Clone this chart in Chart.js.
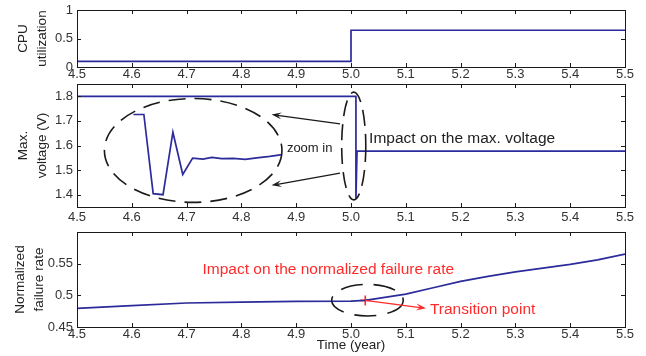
<!DOCTYPE html>
<html>
<head>
<meta charset="utf-8">
<script src="https://cdn.jsdelivr.net/npm/chart.js@4.4.1/dist/chart.umd.min.js"></script>
<style>
  body { margin: 0; background: #fff; }
  #wrap { position: relative; width: 646px; height: 356px; overflow: hidden; }
  canvas { position: absolute; left: 0; }
</style>
</head>
<body>
<div id="wrap">
  <canvas id="cpuChart" width="646" height="82" style="top:0"></canvas>
  <canvas id="voltChart" width="646" height="150" style="top:74px"></canvas>
  <canvas id="rateChart" width="646" height="134" style="top:222px"></canvas>
</div>
<script>
// x axis (years)
const timeTicks = [4.5, 4.6, 4.7, 4.8, 4.9, 5.0, 5.1, 5.2, 5.3, 5.4, 5.5];

// CPU utilization
const cpuTime = [4.5, 5.0, 5.0, 5.5];
const cpuUtil = [0.1, 0.1, 0.645, 0.645];
const cpuTicks = [0, 0.5, 1];

// max. voltage
const voltTime = [4.5, 5.009, 5.009, 5.011, 5.5];
const maxVolt = [1.8, 1.8, 1.385, 1.577, 1.577];
const voltTicks = [1.4, 1.5, 1.6, 1.7, 1.8];

// zoomed-in transient drawn inside the ellipse
const zoomTime = [4.603, 4.622, 4.639, 4.657, 4.675, 4.693, 4.711, 4.730, 4.746, 4.764, 4.785, 4.807, 4.828, 4.852, 4.874];
const zoomVolt = [1.726, 1.726, 1.404, 1.400, 1.654, 1.482, 1.549, 1.545, 1.552, 1.547, 1.548, 1.544, 1.550, 1.556, 1.563];

// normalized failure rate
const rateTime = [4.5, 4.6, 4.7, 4.8, 4.9, 5.0, 5.026, 5.1, 5.15, 5.2, 5.25, 5.3, 5.35, 5.4, 5.45, 5.5];
const failRate = [0.4795, 0.4836, 0.4879, 0.4894, 0.4905, 0.491, 0.492, 0.502, 0.512, 0.522, 0.530, 0.537, 0.543, 0.549, 0.556, 0.565];
const rateTicks = [0.45, 0.5, 0.55];
const transitionTime = [5.026];
const transitionRate = [0.492];

Chart.defaults.font.family = '"Liberation Sans", Arial, Helvetica, sans-serif';

const BLUE = '#2b2b9b';
const RED = '#ff2b2b';
const INK = '#1a1a1a';

const toPoints = (xs, ys) => xs.map((x, i) => ({ x: x, y: ys[i] }));

// box around the plot with MATLAB-style inward ticks
const framePlugin = {
    id: 'frame',
    afterDraw(chart) {
        const { ctx, chartArea: a, scales: { x, y } } = chart;
        ctx.save();
        ctx.strokeStyle = INK;
        ctx.lineWidth = 1;
        ctx.strokeRect(Math.round(a.left) + 0.5, Math.round(a.top) + 0.5,
            Math.round(a.right - a.left), Math.round(a.bottom - a.top));
        ctx.beginPath();
        x.ticks.forEach(t => {
            const px = Math.round(x.getPixelForValue(t.value)) + 0.5;
            ctx.moveTo(px, a.bottom); ctx.lineTo(px, a.bottom - 4);
            ctx.moveTo(px, a.top); ctx.lineTo(px, a.top + 4);
        });
        y.ticks.forEach(t => {
            const py = Math.round(y.getPixelForValue(t.value)) + 0.5;
            ctx.moveTo(a.left, py); ctx.lineTo(a.left + 4, py);
            ctx.moveTo(a.right, py); ctx.lineTo(a.right - 4, py);
        });
        ctx.stroke();
        ctx.restore();
    }
};

function ellipse(chart, cx, cy, rx, ry, dash) {
    const { ctx, scales: { x, y } } = chart;
    const px = x.getPixelForValue(cx), py = y.getPixelForValue(cy);
    const prx = Math.abs(x.getPixelForValue(cx + rx) - px);
    const pry = Math.abs(y.getPixelForValue(cy + ry) - py);
    ctx.save();
    ctx.setLineDash(dash);
    ctx.lineWidth = 1.6;
    ctx.strokeStyle = INK;
    ctx.beginPath();
    ctx.ellipse(px, py, prx, pry, 0, 0, Math.PI * 2);
    ctx.stroke();
    ctx.restore();
}

function arrow(chart, x0, y0, x1, y1, color) {
    const { ctx, scales: { x, y } } = chart;
    const ax = x.getPixelForValue(x0), ay = y.getPixelForValue(y0);
    const bx = x.getPixelForValue(x1), by = y.getPixelForValue(y1);
    const ang = Math.atan2(by - ay, bx - ax);
    const len = 10, w = 3.5;
    ctx.save();
    ctx.strokeStyle = color;
    ctx.fillStyle = color;
    ctx.lineWidth = 1.3;
    ctx.beginPath();
    ctx.moveTo(ax, ay);
    ctx.lineTo(bx - Math.cos(ang) * len * 0.6, by - Math.sin(ang) * len * 0.6);
    ctx.stroke();
    ctx.beginPath();
    ctx.moveTo(bx, by);
    ctx.lineTo(bx - Math.cos(ang) * len + Math.sin(ang) * w, by - Math.sin(ang) * len - Math.cos(ang) * w);
    ctx.lineTo(bx - Math.cos(ang) * len * 0.6, by - Math.sin(ang) * len * 0.6);
    ctx.lineTo(bx - Math.cos(ang) * len - Math.sin(ang) * w, by - Math.sin(ang) * len + Math.cos(ang) * w);
    ctx.closePath();
    ctx.fill();
    ctx.restore();
}

function label(chart, text, tx, ty, color, size) {
    const { ctx, scales: { x, y } } = chart;
    ctx.save();
    ctx.font = size + 'px ' + Chart.defaults.font.family;
    ctx.fillStyle = color;
    ctx.textAlign = 'left';
    ctx.textBaseline = 'middle';
    ctx.fillText(text, x.getPixelForValue(tx), y.getPixelForValue(ty));
    ctx.restore();
}

function xAxis(height, pad, title) {
    return {
        type: 'linear',
        min: 4.5,
        max: 5.5,
        afterBuildTicks: s => { s.ticks = timeTicks.map(v => ({ value: v })); },
        afterFit: s => { s.height = height; s.paddingLeft = 0; s.paddingRight = 0; },
        grid: { display: false, drawTicks: false },
        border: { display: false },
        ticks: { padding: pad, color: '#333', font: { size: 13 }, maxRotation: 0, callback: v => v.toFixed(1) },
        title: title ? { display: true, text: title, color: '#222', font: { size: 13.5 }, padding: { top: 0, bottom: 3 } } : { display: false }
    };
}

function yAxis(min, max, tickVals, titleLines, titlePad) {
    return {
        min: min,
        max: max,
        afterBuildTicks: s => { s.ticks = tickVals.map(v => ({ value: v })); },
        afterFit: s => { s.width = 77; s.paddingTop = 0; s.paddingBottom = 0; },
        grid: { display: false, drawTicks: false },
        border: { display: false },
        ticks: { padding: 4, color: '#333', font: { size: 13 }, callback: v => String(+v.toFixed(2)) },
        title: { display: true, text: titleLines, color: '#222', font: { size: 13.5, lineHeight: 1.4 }, padding: { top: titlePad, bottom: 0 } }
    };
}

function baseOptions(xa, ya) {
    return {
        responsive: false,
        animation: false,
        layout: { padding: { top: 10, right: 21, left: 0, bottom: 0 } },
        plugins: { legend: { display: false }, tooltip: { enabled: false } },
        elements: { point: { radius: 0 } },
        scales: { x: xa, y: ya }
    };
}

const lineSet = (xs, ys) => ({
    data: toPoints(xs, ys),
    borderColor: BLUE,
    borderWidth: 1.7,
    pointRadius: 0,
    fill: false,
    tension: 0
});

new Chart(document.getElementById('cpuChart'), {
    type: 'line',
    data: { datasets: [lineSet(cpuTime, cpuUtil)] },
    options: baseOptions(xAxis(15, 0), yAxis(0, 1, cpuTicks, ['CPU', 'utilization'], 14)),
    plugins: [framePlugin]
});

new Chart(document.getElementById('voltChart'), {
    type: 'line',
    data: { datasets: [lineSet(voltTime, maxVolt), lineSet(zoomTime, zoomVolt)] },
    options: baseOptions(xAxis(17, 3), yAxis(1.35, 1.85, voltTicks, ['Max.', 'voltage (V)'], 14)),
    plugins: [framePlugin, {
        id: 'voltNotes',
        afterDraw(chart) {
            ellipse(chart, 4.712, 1.580, 0.162, 0.211, [17, 9]);
            ellipse(chart, 5.005, 1.598, 0.022, 0.219, [16, 8]);
            arrow(chart, 4.980, 1.688, 4.855, 1.726, INK);
            arrow(chart, 4.980, 1.488, 4.855, 1.438, INK);
            label(chart, 'zoom in', 4.883, 1.587, '#222', 13);
            label(chart, 'Impact on the max. voltage', 5.033, 1.628, '#222', 15.5);
        }
    }]
});

new Chart(document.getElementById('rateChart'), {
    type: 'line',
    data: {
        datasets: [
            lineSet(rateTime, failRate),
            {
                data: toPoints(transitionTime, transitionRate),
                showLine: false,
                pointStyle: 'cross',
                pointRadius: 5,
                pointBorderWidth: 1.6,
                pointBorderColor: RED,
                borderColor: RED
            }
        ]
    },
    options: baseOptions(xAxis(29, 0, 'Time (year)'), yAxis(0.45, 0.6, rateTicks, ['Normalized', 'failure rate'], 11)),
    plugins: [framePlugin, {
        id: 'rateNotes',
        afterDraw(chart) {
            ellipse(chart, 5.030, 0.4923, 0.0653, 0.0249, [22, 11]);
            arrow(chart, 5.026, 0.492, 5.137, 0.4795, RED);
            label(chart, 'Impact on the normalized failure rate', 4.729, 0.541, RED, 15.5);
            label(chart, 'Transition point', 5.144, 0.478, RED, 15.5);
        }
    }]
});
</script>
</body>
</html>
